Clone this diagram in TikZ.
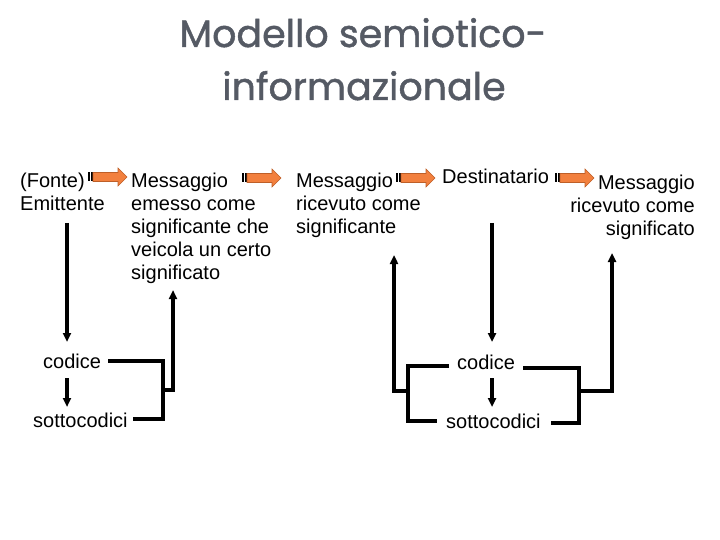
\documentclass[tikz,border=0pt]{standalone}
\usepackage{fontspec}
\setmainfont{Liberation Sans}
\newfontfamily\titlefont[FakeBold=1.2]{Poppins}
\usetikzlibrary{arrows.meta}
\definecolor{arrorange}{RGB}{242,128,62}
\definecolor{arrline}{RGB}{190,95,40}
\definecolor{titlegrey}{RGB}{85,90,100}
\newcommand{\mlines}[2]{\begin{tabular}[t]{@{}#1@{}}#2\end{tabular}}
\tikzset{
  lbl/.style={inner sep=0pt, font=\fontsize{20bp}{23bp}\selectfont},
  ttl/.style={inner sep=0pt, anchor=base, text=titlegrey, font=\titlefont\fontsize{38bp}{44bp}\selectfont},
  conn/.style={line width=3.4bp, line join=miter},
  tip/.style={conn, -{Triangle[width=8bp,length=9bp]}},
  blockarr/.pic={
    \fill[black] (0,-4.5) rectangle (2,4.5);
    \fill[black] (3.2,-4.5) rectangle (4.6,4.5);
    \filldraw[fill=arrorange, draw=arrline, line width=0.6bp]
      (5,-4.5) -- (30,-4.5) -- (30,-9) -- (39,0) -- (30,9) -- (30,4.5) -- (5,4.5) -- cycle;
  }
}
\begin{document}
\begin{tikzpicture}[x=1bp,y=-1bp]
\useasboundingbox (0,0) rectangle (720,540);
% title
\node[ttl] (t1) at (363,47) {Modello semiotico-};
\node[ttl] (t2) at (364,100) {informazionale};
% top row
\node[lbl, anchor=base west] (emit) at (20,188) {\mlines{l}{(Fonte)\\Emittente}};
\node[lbl, anchor=base west] (msg1) at (131,188) {\mlines{l}{Messaggio\\emesso come\\significante che\\veicola un certo\\significato}};
\node[lbl, anchor=base west] (msg2) at (296,188) {\mlines{l}{Messaggio\\ricevuto come\\significante}};
\node[lbl, anchor=base west] (dest) at (442,184) {Destinatario};
\node[lbl, anchor=base east] (msg3) at (695,190) {\mlines{r}{Messaggio\\ricevuto come\\significato}};
% block arrows
\pic at (88,177) {blockarr};
\pic at (242,178) {blockarr};
\pic at (396,178) {blockarr};
\pic at (555,178) {blockarr};
% bottom nodes
\node[lbl, anchor=base west] (cod1) at (43,368) {codice};
\node[lbl, anchor=base west] (sot1) at (33,427) {sottocodici};
\node[lbl, anchor=base west] (cod2) at (457,369) {codice};
\node[lbl, anchor=base west] (sot2) at (446,428) {sottocodici};
% coordinates
\coordinate (a1) at (67,223);
\coordinate (a2) at (67,342);
\coordinate (a3) at (67,378);
\coordinate (a4) at (67,407);
\coordinate (b1) at (108,361);
\coordinate (b2) at (163,361);
\coordinate (b3) at (163,419);
\coordinate (b4) at (133,419);
\coordinate (b5) at (163,390);
\coordinate (b6) at (173,390);
\coordinate (b7) at (173,290);
\coordinate (c1) at (492,223);
\coordinate (c2) at (492,342);
\coordinate (c3) at (492,378);
\coordinate (c4) at (492,407);
\coordinate (d1) at (449,366);
\coordinate (d2) at (408,366);
\coordinate (d3) at (408,421);
\coordinate (d4) at (437,421);
\coordinate (d5) at (408,391);
\coordinate (d6) at (394,391);
\coordinate (d7) at (394,255);
\coordinate (e1) at (523,368);
\coordinate (e2) at (579,368);
\coordinate (e3) at (579,423);
\coordinate (e4) at (551,423);
\coordinate (e5) at (579,391);
\coordinate (e6) at (612,391);
\coordinate (e7) at (612,253);
% connectors
\draw[tip] (a1) -- (a2);
\draw[tip] (a3) -- (a4);
\draw[conn] (b1) -- (b2) -- (b3) -- (b4);
\draw[tip] (b5) -- (b6) -- (b7);
\draw[tip] (c1) -- (c2);
\draw[tip] (c3) -- (c4);
\draw[conn] (d1) -- (d2) -- (d3) -- (d4);
\draw[tip] (d5) -- (d6) -- (d7);
\draw[conn] (e1) -- (e2) -- (e3) -- (e4);
\draw[tip] (e5) -- (e6) -- (e7);
\end{tikzpicture}
\end{document}
